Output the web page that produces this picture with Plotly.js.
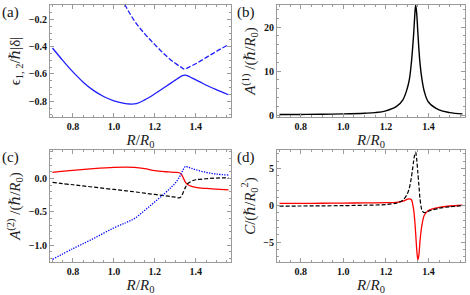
<!DOCTYPE html>
<html><head><meta charset="utf-8">
<script src="https://cdn.plot.ly/plotly-3.0.1.min.js"></script>
<style>html,body{margin:0;padding:0;background:#fff}#chart{width:470px;height:295px}</style>
</head><body><div id="chart"></div>
<script>
// Panel (a): energies
const Ra_lower = [0.70,0.75,0.80,0.85,0.90,0.95,1.00,1.05,1.08,1.11,1.15,1.20,1.25,1.28,1.30,1.32,1.33,1.34,1.35,1.36,1.38,1.42,1.46,1.50,1.56];
const eps_lower = [-0.41,-0.50,-0.585,-0.66,-0.72,-0.765,-0.797,-0.815,-0.82,-0.817,-0.79,-0.745,-0.695,-0.665,-0.645,-0.625,-0.616,-0.61,-0.609,-0.614,-0.628,-0.658,-0.688,-0.715,-0.752];
const Ra_upper = [1.02,1.06,1.10,1.15,1.20,1.25,1.30,1.33,1.345,1.36,1.40,1.45,1.50,1.56];
const eps_upper = [0.0,-0.11,-0.21,-0.305,-0.385,-0.46,-0.522,-0.552,-0.565,-0.555,-0.525,-0.48,-0.435,-0.385];
// Panel (b): A(1)
const Rb = [0.70,0.80,0.90,1.00,1.10,1.15,1.20,1.25,1.28,1.30,1.31,1.32,1.33,1.335,1.34,1.345,1.35,1.36,1.37,1.38,1.40,1.45,1.50,1.56];
const A1 = [0.15,0.18,0.22,0.30,0.45,0.6,1.0,2.0,3.5,6,8,12,18,22,25,23,19,12,8,5.5,3,1.2,0.6,0.3];
// Panel (c): A(2) components
const Rc = [0.70,0.80,0.90,1.00,1.06,1.10,1.15,1.20,1.25,1.28,1.30,1.32,1.33,1.34,1.35,1.36,1.38,1.40,1.45,1.50,1.56];
const A2_red = [0.09,0.12,0.145,0.165,0.17,0.165,0.145,0.115,0.10,0.095,0.09,0.085,0.06,0.0,-0.06,-0.09,-0.12,-0.135,-0.15,-0.16,-0.17];
const A2_black = [-0.06,-0.095,-0.13,-0.165,-0.185,-0.2,-0.22,-0.24,-0.26,-0.27,-0.28,-0.29,-0.265,-0.2,-0.13,-0.08,-0.04,-0.02,-0.005,0.005,0.01];
const A2_blue = [-1.21,-1.05,-0.9,-0.74,-0.66,-0.6,-0.48,-0.35,-0.22,-0.13,-0.07,0.02,0.08,0.14,0.18,0.17,0.15,0.13,0.09,0.065,0.05];
// Panel (d): C
const Rd = [0.70,0.80,0.90,1.00,1.10,1.20,1.25,1.28,1.30,1.31,1.32,1.325,1.33,1.335,1.34,1.345,1.35,1.355,1.36,1.365,1.37,1.38,1.40,1.45,1.50,1.56];
const C_red = [0.25,0.25,0.27,0.3,0.32,0.35,0.4,0.55,0.8,0.88,0.75,0.3,-0.5,-1.8,-3.8,-6.0,-7.4,-6.8,-5.0,-3.6,-2.6,-1.4,-0.7,-0.3,-0.1,0.0];
const C_black = [-0.12,-0.1,-0.08,-0.05,0.0,0.1,0.3,0.7,1.5,2.3,3.8,4.8,5.9,6.8,7.2,6.2,4.5,2.8,1.0,-0.1,-0.7,-1.0,-0.8,-0.4,-0.2,-0.05];

const frame = '#9a9a9a';
const serif = '"Times New Roman", "Liberation Serif", "DejaVu Serif", serif';
const tfont = {family:serif, size:10, color:'#111', weight:'bold'};
const titlefont = {family:serif, size:15, color:'#222'};
function xax(dom, anchor){
  return {domain:dom, anchor:anchor, range:[0.688,1.572], dtick:0.2, tick0:0, tickformat:'.1f',
    showgrid:false, zeroline:false, showline:true, linecolor:frame, linewidth:1, mirror:'allticks',
    ticks:'inside', ticklen:4, tickcolor:frame, tickfont:tfont,
    minor:{dtick:0.05, ticklen:2, tickcolor:frame, ticks:'inside'},
    title:{text:'<i>R</i>/<i>R</i><sub>0</sub>', font:titlefont, standoff:1}};
}
function yax(dom, anchor, range, dtick, mdt, fmt, title){
  return {domain:dom, anchor:anchor, range:range, dtick:dtick, tick0:0, tickformat:fmt,
    showgrid:false, zeroline:false, showline:true, linecolor:frame, linewidth:1, mirror:'allticks',
    ticks:'inside', ticklen:4, tickcolor:frame, tickfont:tfont,
    minor:{dtick:mdt, ticklen:2, tickcolor:frame, ticks:'inside'},
    title:{text:title, font:titlefont, standoff:4}};
}
const xL=[50/470,231/470], xR=[277/470,465/470];
const yT=[1-117/295,1-5/295], yB=[1-262/295,1-150/295];

const data = [
  {x:Ra_lower, y:eps_lower, xaxis:'x', yaxis:'y', mode:'lines', line:{color:'#1f1fff', width:1.3, shape:'spline'}},
  {x:Ra_upper, y:eps_upper, xaxis:'x', yaxis:'y', mode:'lines', line:{color:'#1f1fff', width:1.3, dash:'5px,2px', shape:'spline'}},
  {x:Rb, y:A1, xaxis:'x2', yaxis:'y2', mode:'lines', line:{color:'#000', width:1.4, shape:'spline'}},
  {x:Rc, y:A2_red, xaxis:'x3', yaxis:'y3', mode:'lines', line:{color:'#ff0000', width:1.3, shape:'spline'}},
  {x:Rc, y:A2_black, xaxis:'x3', yaxis:'y3', mode:'lines', line:{color:'#000', width:1.2, dash:'4px,2px', shape:'spline'}},
  {x:Rc, y:A2_blue, xaxis:'x3', yaxis:'y3', mode:'lines', line:{color:'#0000ff', width:1.3, dash:'1.3px,1.3px', shape:'spline'}},
  {x:Rd, y:C_red, xaxis:'x4', yaxis:'y4', mode:'lines', line:{color:'#ff0000', width:1.3, shape:'spline', smoothing:0.8}},
  {x:Rd, y:C_black, xaxis:'x4', yaxis:'y4', mode:'lines', line:{color:'#000', width:1.2, dash:'4px,2px', shape:'spline', smoothing:0.8}}
];
const lab = (t,x,y)=>({text:t, x:x, y:y, xref:'paper', yref:'paper', xanchor:'left', yanchor:'middle', showarrow:false,
  font:{family:serif, size:15, color:'#111'}});
const layout = {
  width:470, height:295, margin:{l:0,r:0,t:0,b:0}, showlegend:false,
  font:{family:serif},
  paper_bgcolor:'#fff', plot_bgcolor:'#fff',
  xaxis:xax(xL,'y'), yaxis:yax(yT,'x',[-0.915,-0.095],0.2,0.05,'.1f','ϵ<sub>1, 2</sub>/ℏ|δ|'),
  xaxis2:xax(xR,'y2'), yaxis2:yax(yT,'x2',[-0.4,25.0],10,2,'d','<i>A</i><sup>(1)</sup> /(ℏ/<i>R</i><sub>0</sub>)'),
  xaxis3:xax(xL,'y3'), yaxis3:yax(yB,'x3',[-1.25,0.425],0.5,0.1,'.1f','<i>A</i><sup>(2)</sup> /(ℏ/<i>R</i><sub>0</sub>)'),
  xaxis4:xax(xR,'y4'), yaxis4:yax(yB,'x4',[-7.7,7.5],5,1,'d','<i>C</i>/(ℏ/<i>R</i><sub>0</sub><sup>2</sup>)'),
  annotations:[lab('(a)',0/470,1-12/295), lab('(b)',235/470,1-12/295), lab('(c)',0/470,1-157/295), lab('(d)',235/470,1-157/295)]
};
Plotly.newPlot('chart', data, layout, {staticPlot:true, displayModeBar:false});
</script></body></html>
